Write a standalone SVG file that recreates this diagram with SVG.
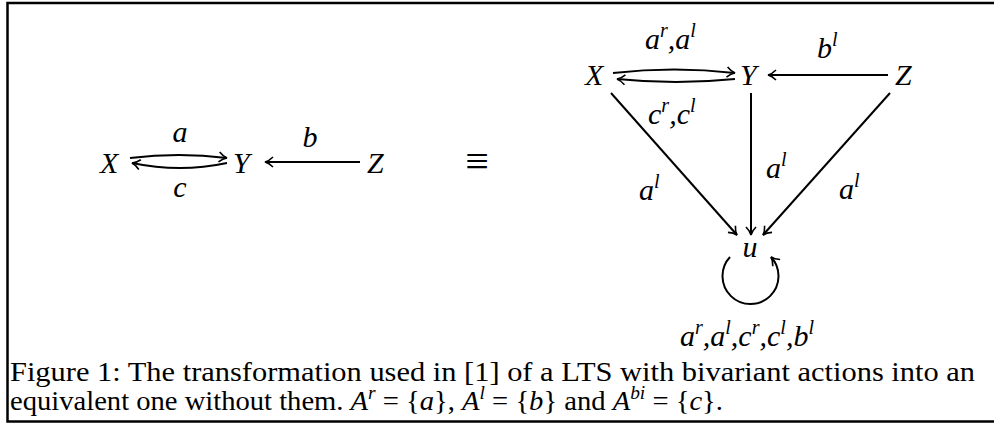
<svg xmlns="http://www.w3.org/2000/svg" width="994" height="424" viewBox="0 0 994 424">
<style>
.m{font-family:"Liberation Serif",Tinos,"Times New Roman",Times,serif;font-style:italic;font-size:30px;fill:#000}
.s{font-size:20px}
.r{font-style:normal;font-size:42px}
.cap{font-family:"Liberation Serif",Tinos,"Times New Roman",Times,serif;font-size:28px;fill:#000}
.i{font-style:italic}
.e{fill:none;stroke:#000;stroke-width:2}
</style>
<defs>
<marker id="ah" markerUnits="userSpaceOnUse" viewBox="-9 -6 11 12" refX="0" refY="0" markerWidth="11" markerHeight="12" orient="auto" overflow="visible">
<path d="M -8 -5 C -5 -2 -2 -0.5 0 0 C -2 0.5 -5 2 -8 5" fill="none" stroke="#000" stroke-width="1.6"/>
</marker>
</defs>
<rect x="7.5" y="3" width="1000" height="418.5" fill="none" stroke="#000" stroke-width="2.5"/>

<g id="edges">
<path class="e" d="M 130 158 Q 179 152 227 158" marker-end="url(#ah)"/>
<path class="e" d="M 227 163 Q 180 173 132 163" marker-end="url(#ah)"/>
<path class="e" d="M 360 162 L 265 162" marker-end="url(#ah)"/>
<path class="e" d="M 613 73 Q 674 66 735 73" marker-end="url(#ah)"/>
<path class="e" d="M 735 79 Q 676 85 617 79" marker-end="url(#ah)"/>
<path class="e" d="M 888 75 L 768 75" marker-end="url(#ah)"/>
<path class="e" d="M 611 93 L 737 235" marker-end="url(#ah)"/>
<path class="e" d="M 751 93 L 751 235" marker-end="url(#ah)"/>
<path class="e" d="M 890 93 L 763 235" marker-end="url(#ah)"/>
<path class="e" d="M 730 257 A 28 28 0 1 0 771 257" marker-end="url(#ah)"/>
<text class="m" x="180" y="142" text-anchor="middle">a</text>
<text class="m" x="180" y="197" text-anchor="middle">c</text>
<text class="m" x="310" y="147" text-anchor="middle">b</text>
<text class="m" x="645" y="49">a<tspan class="s" dy="-12">r</tspan><tspan dy="12">,a</tspan><tspan class="s" dy="-12">l</tspan></text>
<text class="m" x="817" y="58">b<tspan class="s" dy="-12">l</tspan></text>
<text class="m" x="648" y="124">c<tspan class="s" dy="-12">r</tspan><tspan dy="12">,c</tspan><tspan class="s" dy="-12">l</tspan></text>
<text class="m" x="639" y="200">a<tspan class="s" dy="-12">l</tspan></text>
<text class="m" x="766" y="178">a<tspan class="s" dy="-12">l</tspan></text>
<text class="m" x="839" y="199">a<tspan class="s" dy="-12">l</tspan></text>
<text class="m" x="680" y="346">a<tspan class="s" dy="-12">r</tspan><tspan dy="12">,a</tspan><tspan class="s" dy="-12">l</tspan><tspan dy="12">,c</tspan><tspan class="s" dy="-12">r</tspan><tspan dy="12">,c</tspan><tspan class="s" dy="-12">l</tspan><tspan dy="12">,b</tspan><tspan class="s" dy="-12">l</tspan></text>
</g>

<g id="node-X1"><text class="m" x="100" y="173">X</text></g>
<g id="node-Y1"><text class="m" x="233" y="173">Y</text></g>
<g id="node-Z1"><text class="m" x="367" y="173">Z</text></g>
<g id="equiv"><text class="m r" x="477" y="175" text-anchor="middle">≡</text></g>
<g id="node-X2"><text class="m" x="585" y="85">X</text></g>
<g id="node-Y2"><text class="m" x="740" y="85">Y</text></g>
<g id="node-Z2"><text class="m" x="895" y="85">Z</text></g>
<g id="node-u"><text class="m" x="750" y="257" text-anchor="middle">u</text></g>

<g id="caption">
<text class="cap" x="10" y="381" textLength="965" lengthAdjust="spacingAndGlyphs">Figure 1: The transformation used in [1] of a LTS with bivariant actions into an</text>
<text class="cap" x="10" y="410" textLength="713" lengthAdjust="spacingAndGlyphs">equivalent one without them. <tspan class="i">A</tspan><tspan class="i" font-size="19" dy="-11">r</tspan><tspan dy="11"> = {</tspan><tspan class="i">a</tspan>}, <tspan class="i">A</tspan><tspan class="i" font-size="19" dy="-11">l</tspan><tspan dy="11"> = {</tspan><tspan class="i">b</tspan>} and <tspan class="i">A</tspan><tspan class="i" font-size="19" dy="-11">bi</tspan><tspan dy="11"> = {</tspan><tspan class="i">c</tspan>}.</text>
</g>
</svg>
